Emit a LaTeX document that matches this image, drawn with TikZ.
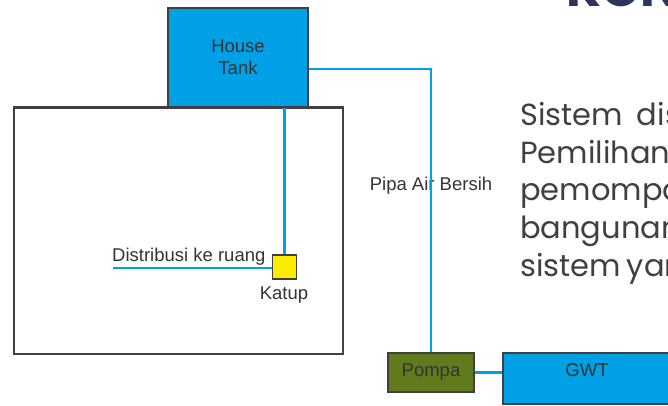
\documentclass[tikz,border=0pt]{standalone}
\usepackage{fontspec}
\setmainfont{Liberation Sans}
\newfontfamily\slidefont{Poppins}
\usepackage{tikz}

\definecolor{pipeblue}{RGB}{0,160,230}
\definecolor{edgegray}{RGB}{64,64,64}
\definecolor{textgray}{RGB}{52,52,52}
\definecolor{pumpgreen}{RGB}{96,122,28}
\definecolor{valveyellow}{RGB}{255,236,0}
\definecolor{titlenavy}{RGB}{44,54,92}

\tikzset{
  unit/.style={draw=edgegray,line width=2.6pt,rectangle,inner sep=0pt},
  pipe/.style={draw=pipeblue,line width=2.4pt},
  tag/.style={text=textgray,font=\fontsize{18.5}{22}\selectfont,inner sep=0pt},
  slide/.style={text=edgegray,font=\slidefont\fontsize{30.5}{36}\selectfont,inner sep=0pt,anchor=base west}
}

\begin{document}
\begin{tikzpicture}[x=1pt,y=-1pt]
  \useasboundingbox (0,0) rectangle (668,405);
  \clip (0,0) rectangle (668,405);
  % building and tanks
  \node[unit,fill=white,minimum width=329,minimum height=246.5] (gedung) at (178.5,230.75) {};
  \node[unit,fill=pipeblue,minimum width=140,minimum height=99,tag,align=center] (tank) at (238,57.5) {House\\Tank};
  \node[unit,fill=valveyellow,line width=1.4pt,minimum size=24] (katup) at (284.5,267) {};
  \node[unit,fill=pumpgreen,minimum width=86,minimum height=39] (pompa) at (431,372.5) {};
  \node[tag] (pompalbl) at (431,372.5) {Pompa};
  \node[unit,fill=pipeblue,minimum width=168,minimum height=51] (gwt) at (587,378.5) {};
  \node[tag] (gwtlbl) at (587,370) {GWT};
  % labels
  \node[tag,anchor=base west] (distlbl) at (112,261) {Distribusi ke ruang};
  \node[tag,anchor=base] (katuplbl) at (284,299) {Katup};
  \node[tag] (pipalbl) at (431,186) {Pipa Air Bersih};
  % pipes
  \coordinate (bend) at (431,69);
  \coordinate (ruang) at (113,268);
  \draw[pipe] (tank.east |- bend) -- (bend) -- (pompa.north);
  \draw[pipe] (katup.north |- tank.south) -- (katup.north);
  \draw[pipe] (ruang) -- (katup.west |- ruang);
  \draw[pipe] (pompa.east) -- (gwt.west |- pompa.east);
  % slide text
  \node[slide,text=titlenavy,font=\slidefont\bfseries\fontsize{50}{56}\selectfont] (judul) at (566,6) {KONSEP};
  \node[slide] (baris1) at (520,125) {Sistem\hspace{14pt}distribusi};
  \node[slide] (baris2) at (520,163) {Pemilihan};
  \node[slide] (baris3) at (520,200) {pemompaan};
  \node[slide] (baris4) at (520,238) {bangunan};
  \node[slide] (baris5) at (520,276) {sistem\hspace{6pt}yang};
\end{tikzpicture}
\end{document}
